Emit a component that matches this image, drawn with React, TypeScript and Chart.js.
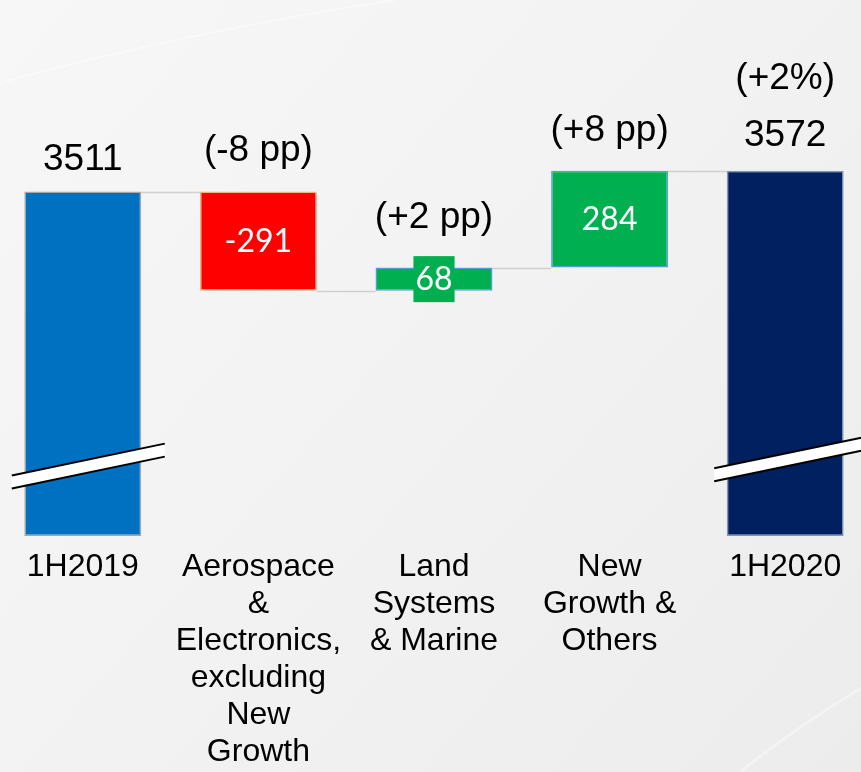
import React, { useEffect, useRef } from "react";
import { Chart, registerables } from "chart.js";

Chart.register(...registerables);

// ---- data ----
const categories: string[][] = [
  ["1H2019"],
  ["Aerospace", "&", "Electronics,", "excluding", "New", "Growth"],
  ["Land", "Systems", "& Marine"],
  ["New", "Growth &", "Others"],
  ["1H2020"],
];
const startTotal = 3511;
const changes = [-291, 68, 284];
const endTotal = 3572;
const changeLabels = ["(-8 pp)", "(+2 pp)", "(+8 pp)"];
const endGrowthLabel = "(+2%)";
const axisFloor = 2500; // broken axis base
const axisCeil = 4000;

const barColors = ["#0070C0", "#FF0000", "#00B050", "#00B050", "#002060"];
const borderColors = ["#A6A6A6", "#F4B183", "#5B9BD5", "#5B9BD5", "#8497B0"];

// floating ranges built from the values above
const floating: [number, number][] = [];
const levels: number[] = [];
{
  let run = startTotal;
  floating.push([axisFloor, startTotal]);
  levels.push(run);
  for (const c of changes) {
    const next = run + c;
    floating.push([Math.min(run, next), Math.max(run, next)]);
    run = next;
    levels.push(run);
  }
  floating.push([axisFloor, endTotal]);
}

const SANS = '"Liberation Sans", Arial, sans-serif';
const CALI = 'Lato, "Open Sans", sans-serif';

const decoPlugin = {
  id: "waterfallDeco",
  beforeDraw(chart: any) {
    const { ctx, width, height } = chart;
    ctx.save();
    const g = ctx.createLinearGradient(0, 0, width, height);
    g.addColorStop(0, "#f7f7f7");
    g.addColorStop(0.5, "#f2f2f2");
    g.addColorStop(1, "#ececec");
    ctx.fillStyle = g;
    ctx.fillRect(0, 0, width, height);
    // faint light streaks
    ctx.strokeStyle = "rgba(255,255,255,0.45)";
    ctx.lineWidth = 2;
    ctx.beginPath();
    ctx.moveTo(0, 84);
    ctx.quadraticCurveTo(200, 30, 400, 0);
    ctx.stroke();
    ctx.strokeStyle = "rgba(255,255,255,0.35)";
    ctx.lineWidth = 3;
    ctx.beginPath();
    ctx.moveTo(745, 772);
    ctx.quadraticCurveTo(810, 720, 880, 680);
    ctx.stroke();
    ctx.restore();
  },
  beforeDatasetsDraw(chart: any) {
    const { ctx } = chart;
    const meta = chart.getDatasetMeta(0);
    const ys = chart.scales.y;
    ctx.save();
    ctx.strokeStyle = "#d0d0d0";
    ctx.lineWidth = 1.5;
    for (let i = 0; i < meta.data.length - 1; i++) {
      const a = meta.data[i].getProps(["x", "width"], true);
      const b = meta.data[i + 1].getProps(["x", "width"], true);
      const py = Math.round(ys.getPixelForValue(levels[i])) + 0.5;
      ctx.beginPath();
      ctx.moveTo(a.x + a.width / 2, py);
      ctx.lineTo(b.x - b.width / 2, py);
      ctx.stroke();
    }
    ctx.restore();
  },
  afterDatasetsDraw(chart: any) {
    const { ctx } = chart;
    const meta = chart.getDatasetMeta(0);
    const ys = chart.scales.y;
    ctx.save();

    // axis-break bands on the two total bars
    const breakLevels = [2702, 2723];
    [0, meta.data.length - 1].forEach((idx, k) => {
      const el = meta.data[idx].getProps(["x"], true);
      const cx = el.x;
      const cy = ys.getPixelForValue(breakLevels[k]);
      const slope = 0.208;
      const x0 = cx - 71;
      const x1 = cx + 82;
      const yAt = (x: number) => cy - (x - cx) * slope;
      const half = 6.5;
      ctx.fillStyle = "#ffffff";
      ctx.beginPath();
      ctx.moveTo(x0, yAt(x0) - half);
      ctx.lineTo(x1, yAt(x1) - half);
      ctx.lineTo(x1, yAt(x1) + half);
      ctx.lineTo(x0, yAt(x0) + half);
      ctx.closePath();
      ctx.fill();
      ctx.strokeStyle = "#000000";
      ctx.lineWidth = 2;
      ctx.beginPath();
      ctx.moveTo(x0, yAt(x0) - half);
      ctx.lineTo(x1, yAt(x1) - half);
      ctx.stroke();
      ctx.beginPath();
      ctx.moveTo(x0, yAt(x0) + half);
      ctx.lineTo(x1, yAt(x1) + half);
      ctx.stroke();
    });

    // labels above bars
    const above = [
      String(startTotal),
      changeLabels[0],
      changeLabels[1],
      changeLabels[2],
      String(endTotal),
    ];
    const gaps = [22, 30.5, 39.5, 29.5, 25];
    ctx.fillStyle = "#000000";
    ctx.textAlign = "center";
    ctx.textBaseline = "alphabetic";
    ctx.font = `37px ${SANS}`;
    meta.data.forEach((bar: any, i: number) => {
      const p = bar.getProps(["x", "y", "base"], true);
      const top = Math.min(p.y, p.base);
      ctx.fillText(above[i], p.x, top - gaps[i]);
      if (i === meta.data.length - 1) {
        ctx.fillText(endGrowthLabel, p.x, top - 81.5);
      }
    });

    // value labels inside change bars
    ctx.font = `32px ${CALI}`;
    ctx.textBaseline = "middle";
    changes.forEach((c, j) => {
      const i = j + 1;
      const p = meta.data[i].getProps(["x", "y", "base"], true);
      const cy = (p.y + p.base) / 2;
      const txt = String(c);
      const h = Math.abs(p.base - p.y);
      if (h < 40) {
        const w = ctx.measureText(txt).width + 4;
        ctx.fillStyle = barColors[i];
        ctx.fillRect(p.x - w / 2, cy - 23, w, 46);
      }
      ctx.fillStyle = "#ffffff";
      ctx.fillText(txt, p.x, cy + 1);
    });
    ctx.restore();
  },
};

export default function App() {
  const ref = useRef<HTMLCanvasElement | null>(null);
  useEffect(() => {
    document.body.style.margin = "0";
    document.body.style.overflow = "hidden";
    if (!ref.current) return;
    const chart = new Chart(ref.current, {
      type: "bar",
      data: {
        labels: categories as any,
        datasets: [
          {
            data: floating as any,
            backgroundColor: barColors,
            borderColor: borderColors,
            borderWidth: 1.5,
            borderSkipped: false,
            barPercentage: 0.666,
            categoryPercentage: 1,
          },
        ],
      },
      options: {
        responsive: false,
        animation: false,
        layout: { padding: { top: 25, left: 0, right: 0, bottom: 0 } },
        plugins: {
          legend: { display: false },
          tooltip: { enabled: false },
        },
        scales: {
          x: {
            grid: { display: false, drawTicks: false },
            border: { display: false },
            ticks: {
              color: "#000000",
              font: { family: SANS, size: 32, lineHeight: 37 / 32 },
              padding: 13,
              maxRotation: 0,
              minRotation: 0,
              autoSkip: false,
            },
            afterFit: (s: any) => {
              s.height = 236;
            },
          },
          y: { display: false, min: axisFloor, max: axisCeil },
        },
      },
      plugins: [decoPlugin],
    });
    return () => chart.destroy();
  }, []);
  return (
    <div style={{ position: "relative", width: 861, height: 772, overflow: "hidden" }}>
      <canvas
        ref={ref}
        width={878}
        height={772}
        style={{ position: "absolute", left: -5, top: 0 }}
      />
    </div>
  );
}
